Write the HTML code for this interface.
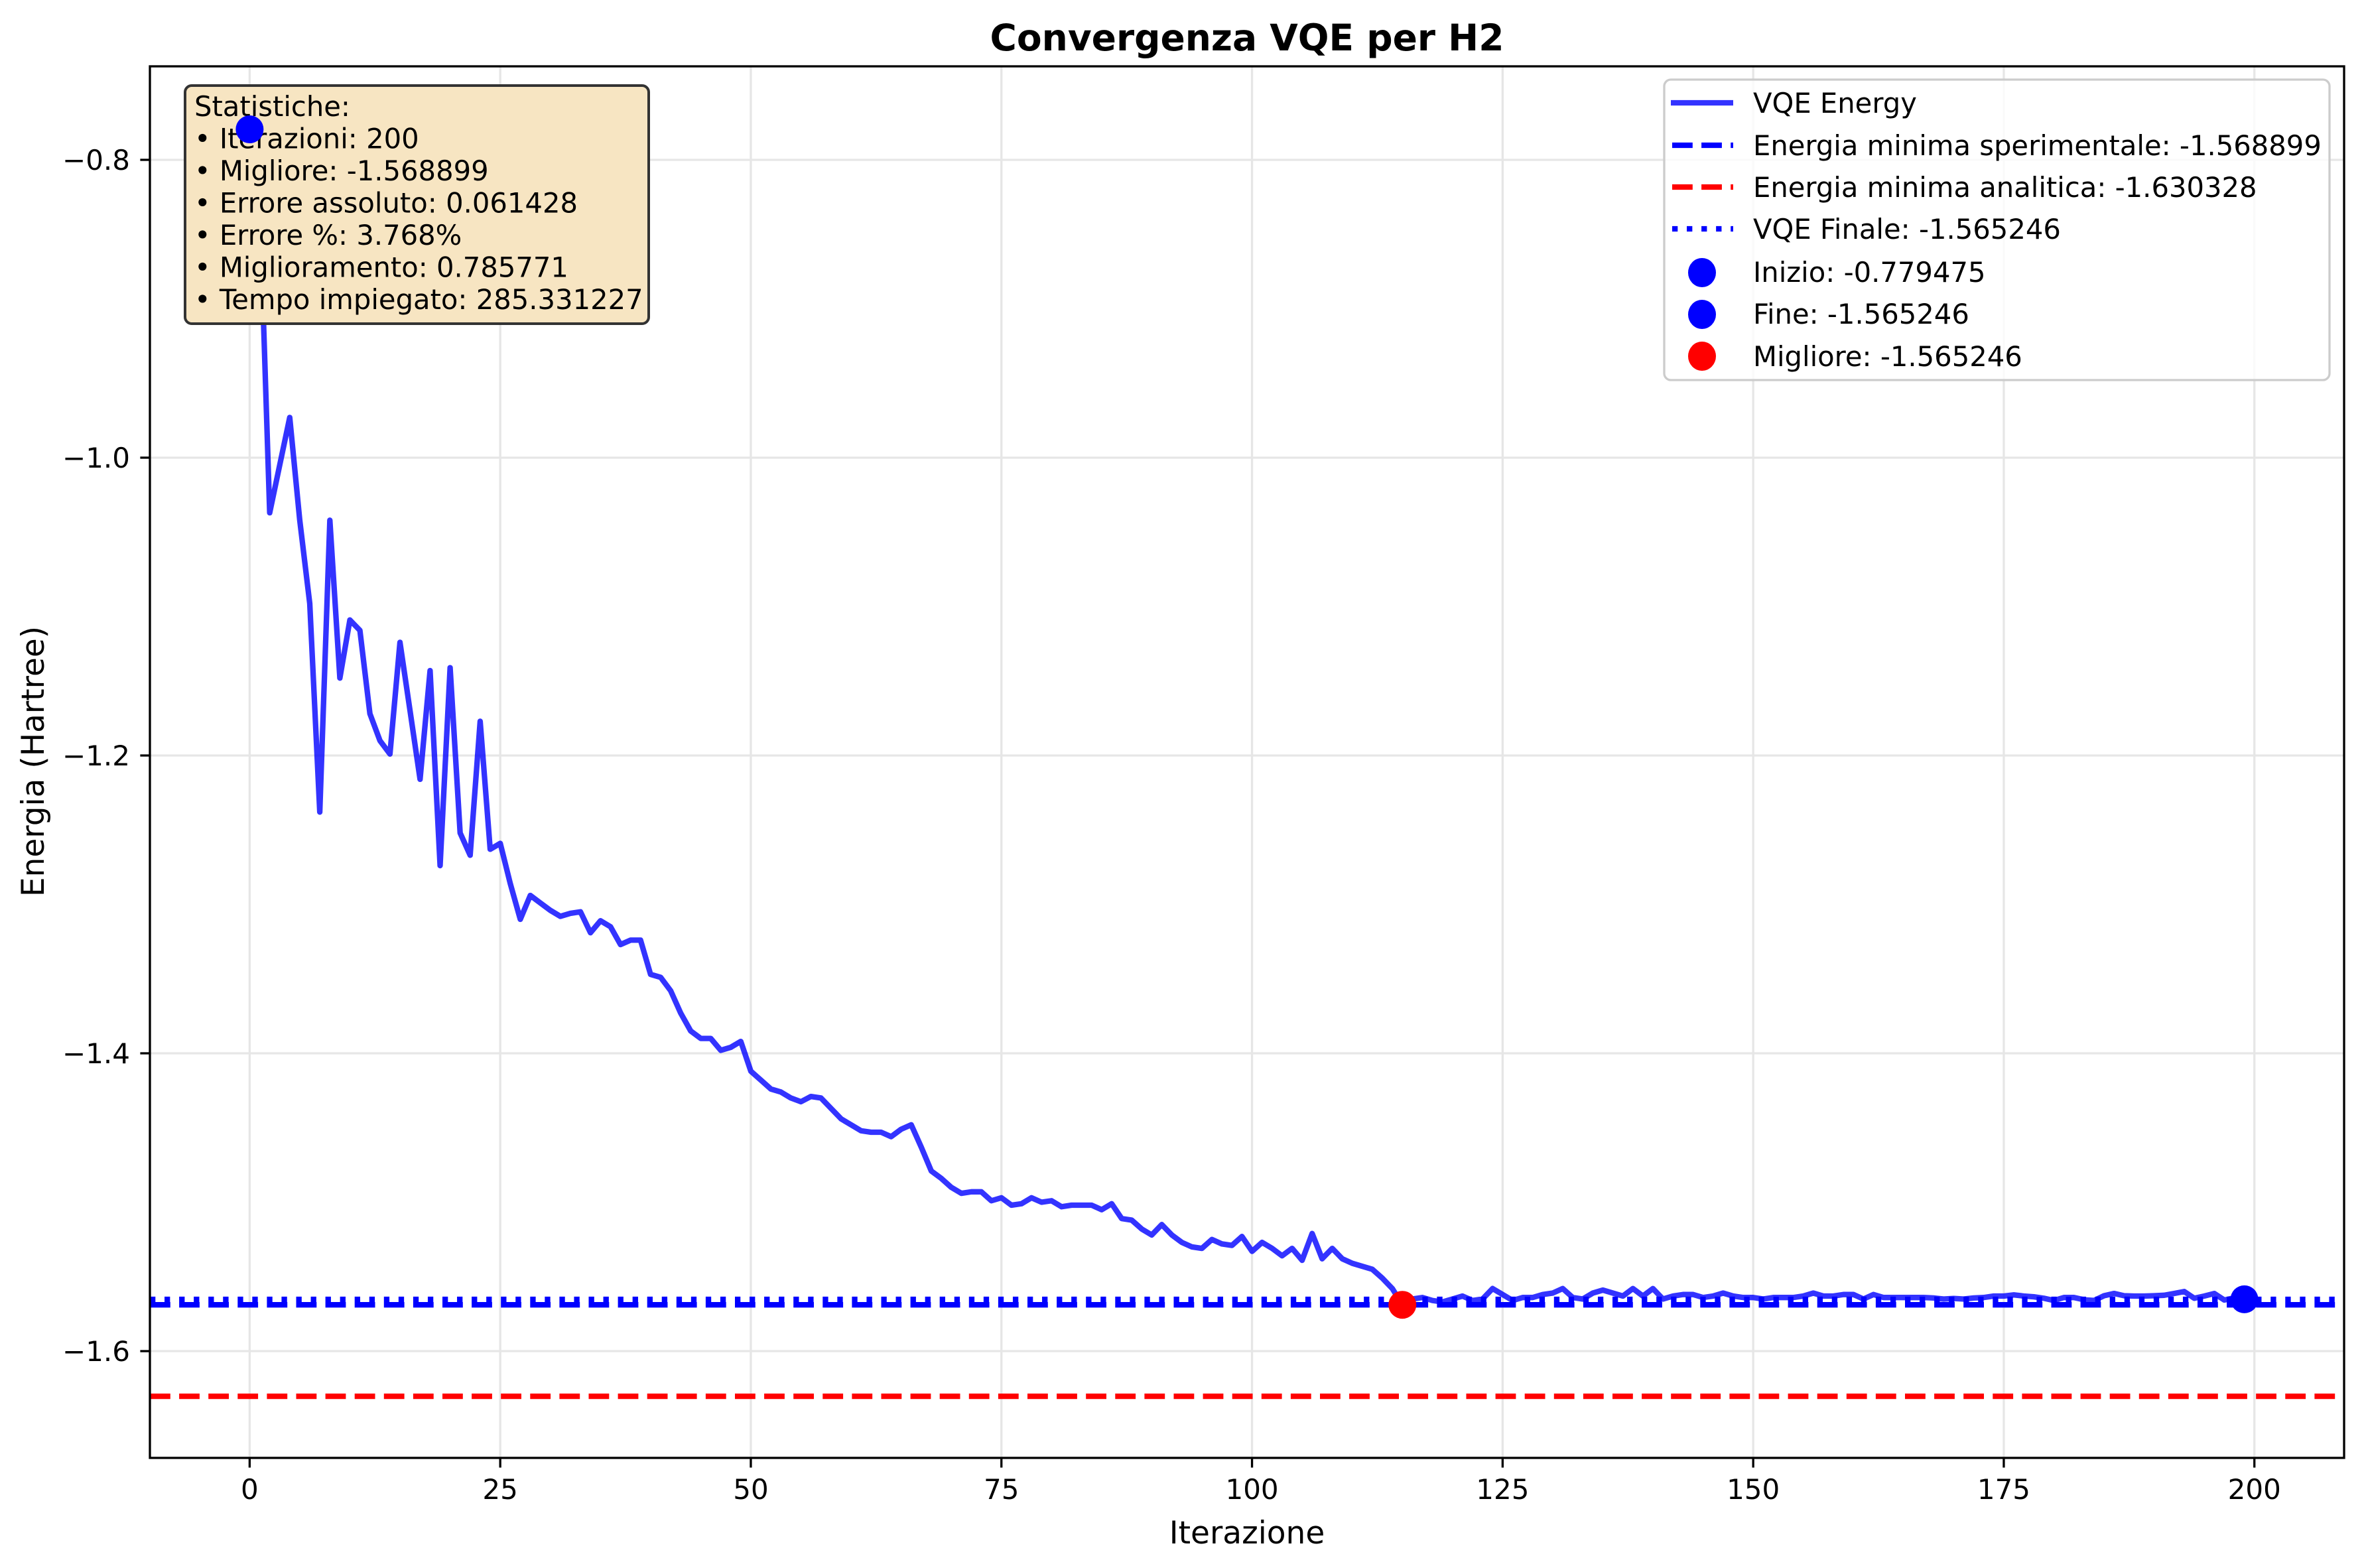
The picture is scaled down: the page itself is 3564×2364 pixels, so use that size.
<!DOCTYPE html>
<html><head><meta charset="utf-8"><style>
html,body{margin:0;padding:0;background:#fff}
svg{display:block;font-family:"DejaVu Sans","Liberation Sans",sans-serif}
</style></head><body>
<svg id="chart" width="3564" height="2364" viewBox="0 0 3564 2364" xmlns="http://www.w3.org/2000/svg">
<rect width="3564" height="2364" fill="#fff"/>
<g id="grid"></g>
<g id="refs"></g>
<g id="series"></g>
<g id="stats">
<rect x="279" y="129" width="699" height="359" rx="10" fill="#f7e5c2" stroke="#333" stroke-width="4"/>
<g font-size="41.7" fill="#000">
<text x="293" y="175">Statistiche:</text>
<text x="293" y="223.5">• Iterazioni: 200</text>
<text x="293" y="272">• Migliore: -1.568899</text>
<text x="293" y="320.5">• Errore assoluto: 0.061428</text>
<text x="293" y="369">• Errore %: 3.768%</text>
<text x="293" y="417.5">• Miglioramento: 0.785771</text>
<text x="293" y="466">• Tempo impiegato: 285.331227</text>
</g></g>
<g id="markers"></g>
<g id="axes"></g>
<g id="legend">
<rect x="2509" y="120" width="1003" height="453" rx="10" fill="#fff" fill-opacity="0.8" stroke="#cccccc" stroke-width="3.3"/>
<g><line x1="2519" y1="155" x2="2613" y2="155" stroke="#3333ff" stroke-width="8.3"/><text x="2643" y="170" font-size="41.7">VQE Energy</text></g>
<g><line x1="2521" y1="219" x2="2613" y2="219" stroke="#0000ff" stroke-width="8.3" stroke-dasharray="30.8 13.3"/><text x="2643" y="234" font-size="41.7">Energia minima sperimentale: -1.568899</text></g>
<g><line x1="2521" y1="282" x2="2613" y2="282" stroke="#ff0000" stroke-width="8.3" stroke-dasharray="30.8 13.3"/><text x="2643" y="297" font-size="41.7">Energia minima analitica: -1.630328</text></g>
<g><line x1="2521" y1="345" x2="2613" y2="345" stroke="#0000ff" stroke-width="8.3" stroke-dasharray="8.3 13.75"/><text x="2643" y="360" font-size="41.7">VQE Finale: -1.565246</text></g>
<g><ellipse cx="2566" cy="411" rx="21" ry="22" fill="#0000ff"/><text x="2643" y="425" font-size="41.7">Inizio: -0.779475</text></g>
<g><ellipse cx="2566" cy="474" rx="21" ry="22" fill="#0000ff"/><text x="2643" y="488" font-size="41.7">Fine: -1.565246</text></g>
<g><ellipse cx="2566" cy="537" rx="21" ry="22" fill="#ff0000"/><text x="2643" y="552" font-size="41.7">Migliore: -1.565246</text></g>
</g>
<text x="1880" y="76" text-anchor="middle" font-size="55" font-weight="bold">Convergenza VQE per H2</text>
<text x="1880" y="2327" text-anchor="middle" font-size="47">Iterazione</text>
<text x="0" y="0" transform="translate(66,1148) rotate(-90)" text-anchor="middle" font-size="47">Energia (Hartree)</text>
</svg>
<script>
const energies = [-0.7795,-0.829,-1.037,-1.005,-0.973,-1.042,-1.098,-1.238,-1.042,-1.148,
-1.109,-1.116,-1.172,-1.19,-1.199,-1.124,-1.17,-1.216,-1.143,-1.274,
-1.141,-1.252,-1.267,-1.177,-1.263,-1.259,-1.286,-1.31,-1.294,-1.299,
-1.304,-1.308,-1.306,-1.305,-1.319,-1.311,-1.315,-1.327,-1.324,-1.324,
-1.347,-1.349,-1.358,-1.373,-1.385,-1.39,-1.39,-1.398,-1.396,-1.392,
-1.412,-1.418,-1.424,-1.426,-1.43,-1.4325,-1.429,-1.43,-1.437,-1.444,
-1.448,-1.452,-1.453,-1.453,-1.456,-1.451,-1.448,-1.463,-1.479,-1.484,
-1.49,-1.494,-1.493,-1.493,-1.499,-1.497,-1.502,-1.501,-1.497,-1.5,
-1.499,-1.503,-1.502,-1.502,-1.502,-1.505,-1.501,-1.511,-1.512,-1.518,
-1.522,-1.515,-1.522,-1.527,-1.53,-1.531,-1.525,-1.528,-1.529,-1.523,
-1.533,-1.527,-1.531,-1.536,-1.531,-1.539,-1.521,-1.538,-1.531,-1.538,
-1.541,-1.543,-1.545,-1.551,-1.558,-1.5689,-1.565,-1.564,-1.566,-1.567,
-1.565,-1.563,-1.566,-1.565,-1.558,-1.562,-1.566,-1.564,-1.564,-1.562,
-1.561,-1.558,-1.564,-1.565,-1.561,-1.559,-1.561,-1.563,-1.558,-1.563,
-1.558,-1.565,-1.563,-1.562,-1.562,-1.564,-1.563,-1.561,-1.563,-1.564,
-1.564,-1.565,-1.564,-1.564,-1.564,-1.563,-1.561,-1.563,-1.563,-1.562,
-1.562,-1.565,-1.562,-1.564,-1.564,-1.564,-1.564,-1.564,-1.5643,-1.565,
-1.5646,-1.565,-1.5643,-1.564,-1.563,-1.563,-1.5622,-1.563,-1.5635,-1.5645,
-1.566,-1.564,-1.564,-1.5655,-1.566,-1.5628,-1.5613,-1.5628,-1.563,-1.563,
-1.5628,-1.5625,-1.5613,-1.560,-1.5645,-1.563,-1.5613,-1.5657,-1.5642,-1.5652];
const expMin = -1.568899;
const anaMin = -1.630328;
const vqeFinal = -1.565246;
const bestIter = 115;
const xTicks = [0,25,50,75,100,125,150,175,200];
const yTicks = [-0.8,-1.0,-1.2,-1.4,-1.6];
const yTickLabels = ["\u22120.8","\u22121.0","\u22121.2","\u22121.4","\u22121.6"];

const L=226,R=3534,T=100,B=2198;
const xMin=-9.95,xMax=208.95,yMax=-0.7372,yMin=-1.6717;
const sx=v=>L+(v-xMin)/(xMax-xMin)*(R-L);
const sy=v=>T+(yMax-v)/(yMax-yMin)*(B-T);
const NS="http://www.w3.org/2000/svg";
function mk(tag,attrs,parent){const e=document.createElementNS(NS,tag);for(const k in attrs)e.setAttribute(k,attrs[k]);parent.appendChild(e);return e;}
const grid=document.getElementById('grid'),axes=document.getElementById('axes');
xTicks.forEach(t=>{
  const g=mk('line',{x1:sx(t),x2:sx(t),y1:T,y2:B,stroke:'#e6e6e6','stroke-width':3.3},grid);
  
  
  const tk=mk('line',{x1:sx(t),x2:sx(t),y1:B,y2:B+14.6,stroke:'#000','stroke-width':3.3},axes);
  
  
  const tx=mk('text',{x:sx(t),y:B+62,'text-anchor':'middle','font-size':42},axes);
  tx.textContent=t;
  
  
});
yTicks.forEach((t,i)=>{
  const g=mk('line',{x1:L,x2:R,y1:sy(t),y2:sy(t),stroke:'#e6e6e6','stroke-width':3.3},grid);
  
  
  const tk=mk('line',{x1:L-14.6,x2:L,y1:sy(t),y2:sy(t),stroke:'#000','stroke-width':3.3},axes);
  
  
  const tx=mk('text',{x:L-30,y:sy(t)+15,'text-anchor':'end','font-size':42},axes);
  tx.textContent=yTickLabels[i];
  
  
});
const frame=mk('rect',{x:L,y:T,width:R-L,height:B-T,fill:'none',stroke:'#000','stroke-width':3.3},axes);



const refs=document.getElementById('refs');
const l1=mk('line',{x1:L,x2:R,y1:sy(expMin),y2:sy(expMin),stroke:'#0000ff','stroke-width':8.3,'stroke-dasharray':'30.8 13.3'},refs);


const l2=mk('line',{x1:L,x2:R,y1:sy(anaMin),y2:sy(anaMin),stroke:'#ff0000','stroke-width':8.3,'stroke-dasharray':'30.8 13.3'},refs);


const l3=mk('line',{x1:L,x2:R,y1:sy(vqeFinal),y2:sy(vqeFinal),stroke:'#0000ff','stroke-width':8.3,'stroke-dasharray':'8.3 13.75'},refs);



const series=document.getElementById('series');
const pts=energies.map((v,i)=>sx(i).toFixed(1)+','+sy(v).toFixed(1)).join(' ');
const pl=mk('polyline',{points:pts,fill:'none',stroke:'#0000ff','stroke-opacity':0.8,'stroke-width':8.3,'stroke-linejoin':'round'},series);



const markers=document.getElementById('markers');
const last=energies.length-1;
const m1=mk('circle',{cx:sx(0),cy:sy(energies[0]),r:21,fill:'#0000ff'},markers);


const m2=mk('circle',{cx:sx(last),cy:sy(energies[last]),r:21,fill:'#0000ff'},markers);


const m3=mk('circle',{cx:sx(bestIter),cy:sy(energies[bestIter]),r:21,fill:'#ff0000'},markers);


</script>
</body></html>
